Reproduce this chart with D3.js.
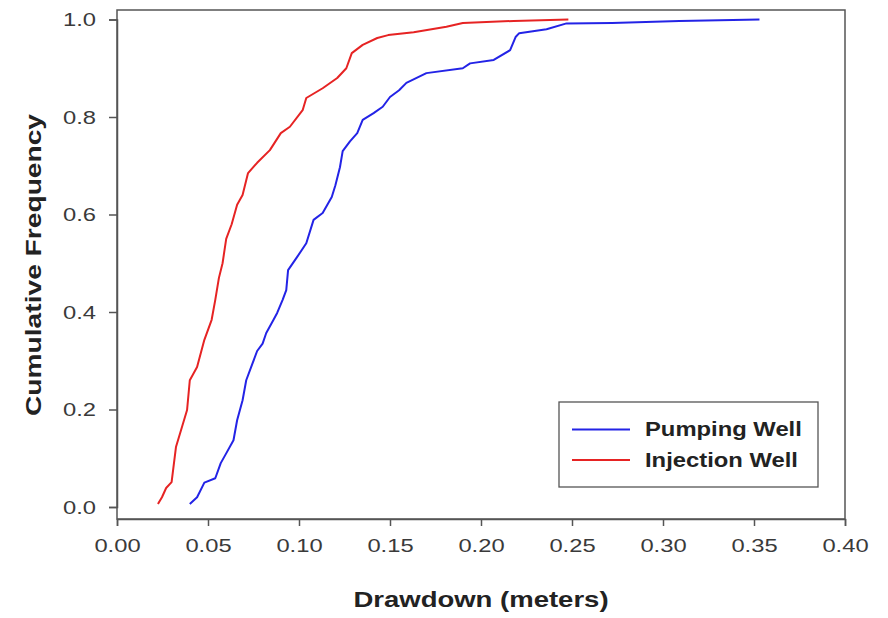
<!DOCTYPE html>
<html><head><meta charset="utf-8">
<script src="https://cdn.jsdelivr.net/npm/d3@7"></script>
<style>body{margin:0;background:#fff}</style>
</head><body>
<script>
const xTicks = [0.00,0.05,0.10,0.15,0.20,0.25,0.30,0.35,0.40];
const yTicks = [0.0,0.2,0.4,0.6,0.8,1.0];
const seriesNames = ["Pumping Well","Injection Well"];
const pumpingX = [0.040,0.044,0.048,0.054,0.057,0.060,0.064,0.066,0.069,0.071,0.074,0.077,0.080,0.082,0.086,0.088,0.091,0.093,0.094,0.099,0.104,0.108,0.113,0.118,0.120,0.1225,0.124,0.128,0.132,0.135,0.141,0.146,0.150,0.155,0.159,0.170,0.190,0.194,0.207,0.216,0.219,0.221,0.236,0.247,0.272,0.309,0.353];
const pumpingY = [0.006,0.02,0.05,0.059,0.09,0.11,0.137,0.178,0.219,0.26,0.29,0.32,0.335,0.357,0.384,0.398,0.425,0.445,0.486,0.513,0.541,0.589,0.603,0.636,0.66,0.697,0.73,0.75,0.767,0.794,0.808,0.821,0.841,0.855,0.87,0.89,0.90,0.91,0.917,0.937,0.964,0.972,0.98,0.992,0.993,0.997,1.0];
const injectionX = [0.0225,0.0247,0.027,0.030,0.0324,0.0357,0.0385,0.040,0.044,0.048,0.052,0.054,0.056,0.058,0.060,0.063,0.066,0.069,0.072,0.077,0.084,0.090,0.095,0.102,0.104,0.113,0.121,0.126,0.129,0.135,0.143,0.149,0.163,0.181,0.19,0.218,0.248];
const injectionY = [0.006,0.02,0.039,0.051,0.123,0.164,0.199,0.26,0.287,0.343,0.384,0.425,0.47,0.50,0.55,0.58,0.62,0.64,0.685,0.706,0.732,0.767,0.78,0.814,0.839,0.859,0.88,0.90,0.931,0.948,0.962,0.968,0.974,0.985,0.993,0.997,1.0];
const colors = ["#2323e6","#e62323"];

const W=888,H=618;
const svg=d3.select("body").append("svg").attr("width",W).attr("height",H);
const pL=117,pR=845,pT=10,pB=519;
const x=d3.scaleLinear().domain([0,0.40]).range([pL,pR]);
const y=d3.scaleLinear().domain([0,1]).range([507,19.5]);
const axisColor="#555";
const font="'Liberation Sans', Arial, sans-serif";
const SX=1.25; // horizontal stretch of the reference's lettering

function stretch(sel,f){
  sel.each(function(){
    const w=this.getComputedTextLength();
    d3.select(this).attr("textLength",w*f).attr("lengthAdjust","spacingAndGlyphs");
  });
}

svg.append("rect").attr("x",pL).attr("y",pT).attr("width",pR-pL).attr("height",pB-pT)
  .attr("fill","none").attr("stroke",axisColor).attr("stroke-width",1.5);

const xa=svg.append("g").attr("transform",`translate(0,${pB})`)
  .call(d3.axisBottom(x).tickValues(xTicks).tickFormat(d3.format(".2f")).tickSize(7).tickPadding(13));
const ya=svg.append("g").attr("transform",`translate(${pL},0)`)
  .call(d3.axisLeft(y).tickValues(yTicks).tickFormat(d3.format(".1f")).tickSize(8).tickPadding(13));
[xa,ya].forEach(g=>{
  g.select(".domain").attr("stroke",axisColor).attr("stroke-width",1.5);
  g.selectAll(".tick line").attr("stroke",axisColor).attr("stroke-width",1.5);
  g.selectAll(".tick text").attr("font-family",font).attr("font-size",19).attr("fill","#3a3a3a")
    .call(stretch,SX);
});

const line=d3.line().x(d=>x(d[0])).y(d=>y(d[1]));
const data=[d3.zip(pumpingX,pumpingY), d3.zip(injectionX,injectionY)];
data.forEach((d,i)=>{
  svg.append("path").datum(d).attr("d",line).attr("fill","none")
    .attr("stroke",colors[i]).attr("stroke-width",2).attr("stroke-linejoin","round");
});

const lg=svg.append("g");
lg.append("rect").attr("x",559).attr("y",402).attr("width",259).attr("height",85)
  .attr("fill","#fff").attr("stroke",axisColor).attr("stroke-width",1.3);
seriesNames.forEach((n,i)=>{
  const yy=429.5+i*30.5;
  lg.append("line").attr("x1",572).attr("x2",630).attr("y1",yy).attr("y2",yy)
    .attr("stroke",colors[i]).attr("stroke-width",2);
  lg.append("text").attr("x",645).attr("y",yy).attr("dy","0.35em")
    .attr("font-family",font).attr("font-weight","bold").attr("font-size",19.5).attr("fill","#222").text(n)
    .call(stretch,1.22);
});

svg.append("text").attr("x",(pL+pR)/2).attr("y",607).attr("text-anchor","middle")
  .attr("font-family",font).attr("font-weight","bold").attr("font-size",22).attr("fill","#222")
  .text("Drawdown (meters)").call(stretch,SX);
svg.append("text").attr("transform",`translate(41,265) rotate(-90)`).attr("text-anchor","middle")
  .attr("font-family",font).attr("font-weight","bold").attr("font-size",22).attr("fill","#222")
  .text("Cumulative Frequency").call(stretch,1.28);
</script>
</body></html>
